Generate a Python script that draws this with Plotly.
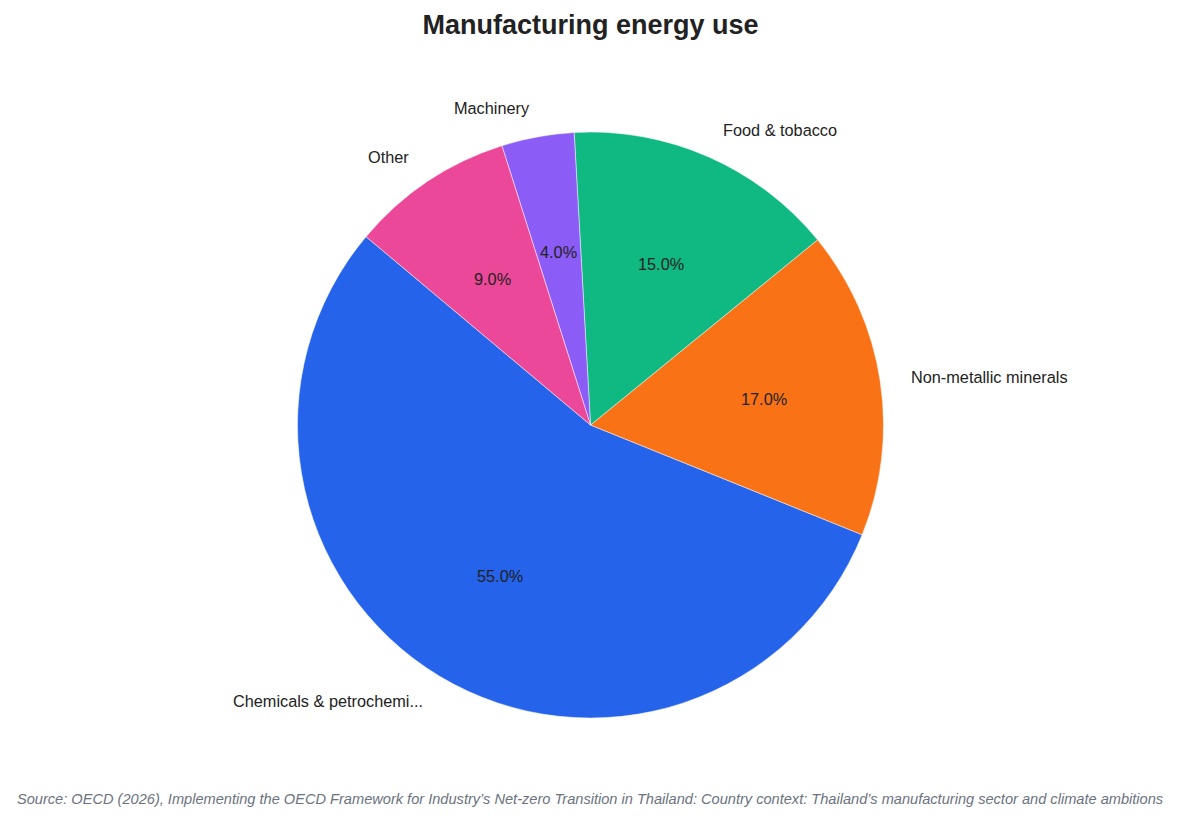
import math
import plotly.graph_objects as go

labels = ["Chemicals & petrochemi...", "Non-metallic minerals", "Food & tobacco", "Machinery", "Other"]
values = [55.0, 17.0, 15.0, 4.0, 9.0]
colors = ["#2563eb", "#f97316", "#10b981", "#8b5cf6", "#ec4899"]

W, H = 1181, 822
start_angle = 140  # degrees, counterclockwise from 3 o'clock
dom_y = [0.1265, 0.8394]
cx = W / 2
cy = H * (1 - (dom_y[0] + dom_y[1]) / 2)
r = H * (dom_y[1] - dom_y[0]) / 2
total = sum(values)

# plotly's counterclockwise pies put the first slice's far edge at `rotation`
first_end = start_angle + 360 * values[0] / total
rotation = (90 - first_end) % 360

fig = go.Figure(go.Pie(
    labels=labels, values=values, sort=False,
    direction="counterclockwise", rotation=rotation,
    marker=dict(colors=colors, line=dict(color="rgba(255,255,255,0.8)", width=0.6)),
    textinfo="none", hoverinfo="label+percent",
    domain=dict(x=[0, 1], y=dom_y), showlegend=False,
))

# labels at 1.1r, percentages at 0.6r (mid-angle of each wedge)
acc = 0
for lab, v in zip(labels, values):
    mid = math.radians(start_angle + 360 * (acc + v / 2) / total)
    acc += v
    c, s = math.cos(mid), math.sin(mid)
    fig.add_annotation(
        x=(cx + 1.1 * r * c) / W, y=1 - (cy - 1.1 * r * s) / H,
        xref="paper", yref="paper", text=lab, showarrow=False,
        xanchor="left" if c > 0 else "right", yanchor="middle",
        font=dict(size=16.3, color="#222222"))
    fig.add_annotation(
        x=(cx + 0.6 * r * c) / W, y=1 - (cy - 0.6 * r * s) / H,
        xref="paper", yref="paper", text=f"{100 * v / total:.1f}%", showarrow=False,
        xanchor="center", yanchor="middle",
        font=dict(size=16.3, color="#222222"))

fig.add_annotation(
    x=15 / W, y=1 - 799 / H, xref="paper", yref="paper", showarrow=False,
    xanchor="left", yanchor="middle",
    text="<i>Source: OECD (2026), Implementing the OECD Framework for Industry’s Net-zero Transition in Thailand: Country context: Thailand’s manufacturing sector and climate ambitions</i>",
    font=dict(size=14.6, color="#6b7280"))

fig.update_layout(
    width=W, height=H,
    margin=dict(l=0, r=0, t=0, b=0),
    paper_bgcolor="white", plot_bgcolor="white",
    font=dict(family="Liberation Sans, Arial, sans-serif", color="#222222"),
    title=dict(text="<b>Manufacturing energy use</b>", x=0.5, xanchor="center",
               y=1 - 25 / H, yanchor="middle", font=dict(size=27, color="#222222")),
)

fig.write_html("out.html", config={"displayModeBar": False},
               post_script="document.body.style.margin='0';")
